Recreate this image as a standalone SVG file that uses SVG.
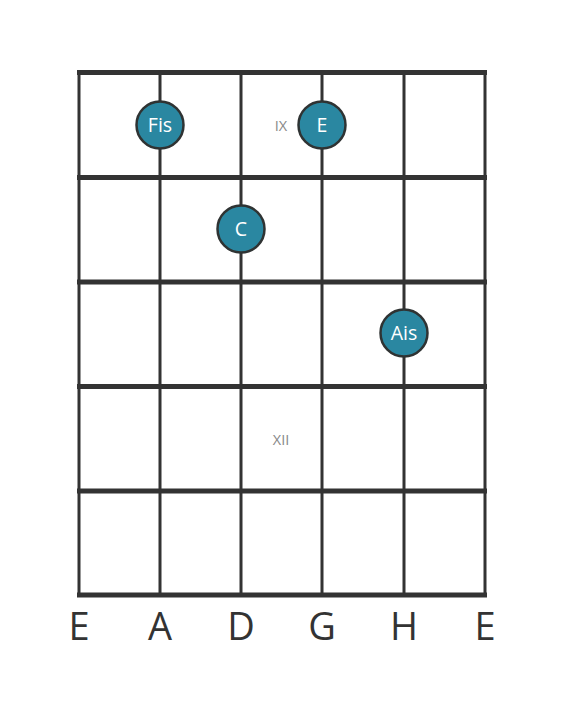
<svg xmlns="http://www.w3.org/2000/svg" width="566" height="711" viewBox="0 0 566 711">
<style>
.fret{stroke:#333;stroke-width:5;fill:none}
.str{stroke:#333;stroke-width:3;fill:none}
.dot{fill:#2a87a1;stroke:#2f3333;stroke-width:2.5}
.nt{font-family:"Open Sans","DejaVu Sans",sans-serif;font-size:19.5px;fill:#fff;text-anchor:middle}
.mk{font-family:"Open Sans","DejaVu Sans",sans-serif;font-size:14.5px;fill:#888;text-anchor:middle}
.sn{font-family:"Open Sans","DejaVu Sans",sans-serif;font-size:38px;fill:#333;text-anchor:middle}
</style>
<rect width="566" height="711" fill="#fff"/>
<g id="strings">
<line class="str" x1="79" y1="72" x2="79" y2="596"/>
<line class="str" x1="160" y1="72" x2="160" y2="596"/>
<line class="str" x1="241" y1="72" x2="241" y2="596"/>
<line class="str" x1="322" y1="72" x2="322" y2="596"/>
<line class="str" x1="404" y1="72" x2="404" y2="596"/>
<line class="str" x1="485" y1="72" x2="485" y2="596"/>
</g>
<g id="frets">
<line class="fret" x1="77" y1="72.5" x2="487" y2="72.5"/>
<line class="fret" x1="77" y1="177.5" x2="487" y2="177.5"/>
<line class="fret" x1="77" y1="282" x2="487" y2="282"/>
<line class="fret" x1="77" y1="386.5" x2="487" y2="386.5"/>
<line class="fret" x1="77" y1="491" x2="487" y2="491"/>
<line class="fret" x1="77" y1="595" x2="487" y2="595"/>
</g>
<g id="markers">
<text class="mk" x="281" y="130.5">IX</text>
<text class="mk" x="281" y="444.5">XII</text>
</g>
<g id="note-fis"><circle class="dot" cx="160" cy="125" r="23.5"/><text class="nt" x="160" y="132">Fis</text></g>
<g id="note-e"><circle class="dot" cx="322" cy="125" r="23.5"/><text class="nt" x="322" y="132">E</text></g>
<g id="note-c"><circle class="dot" cx="241" cy="229" r="23.5"/><text class="nt" x="241" y="236">C</text></g>
<g id="note-ais"><circle class="dot" cx="404" cy="333" r="23.5"/><text class="nt" x="404" y="340">Ais</text></g>
<g id="string-names">
<text class="sn" x="79" y="640">E</text>
<text class="sn" x="160" y="640">A</text>
<text class="sn" x="241" y="640">D</text>
<text class="sn" x="322" y="640">G</text>
<text class="sn" x="404" y="640">H</text>
<text class="sn" x="485" y="640">E</text>
</g>
</svg>
